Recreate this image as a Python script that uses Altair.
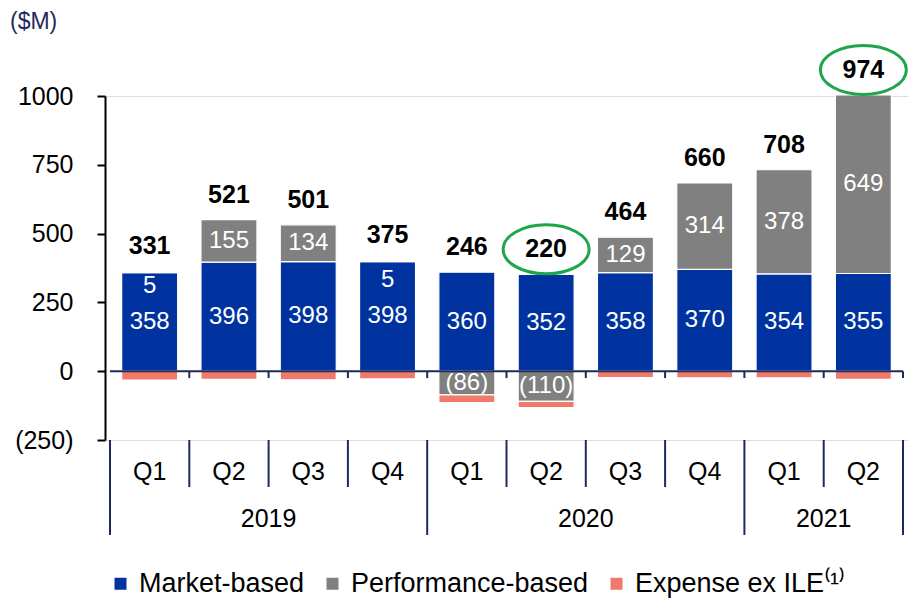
import altair as alt
import pandas as pd

# ---------------- data ----------------
years = ["2019", "2019", "2019", "2019", "2020", "2020", "2020", "2020", "2021", "2021"]
quarters = ["Q1", "Q2", "Q3", "Q4", "Q1", "Q2", "Q3", "Q4", "Q1", "Q2"]
market = [358, 396, 398, 398, 360, 352, 358, 370, 354, 355]
performance = [5, 155, 134, 5, -86, -110, 129, 314, 378, 649]
totals = [331, 521, 501, 375, 246, 220, 464, 660, 708, 974]
highlighted = [0, 0, 0, 0, 0, 1, 0, 0, 0, 1]
# expense (ex ILE) implied by total = market + performance + expense
expense = [t - m - p for t, m, p in zip(totals, market, performance)]

series_names = ["Market-based", "Performance-based", "Expense ex ILE⁽¹⁾"]
colors = ["#0033A0", "#808080", "#EF7A6A"]
y_ticks = [-250, 0, 250, 500, 750, 1000]

FONT = "Liberation Sans"
NAVY = "#1F2A5C"
GREEN = "#1FA64A"

idx = list(range(len(quarters)))

# ---------------- tables built from the lists ----------------
seg_rows, lab_rows, small_rows = [], [], []
def fmt(v):
    return f"({abs(v)})" if v < 0 else str(v)

for i in idx:
    m, p, e = market[i], performance[i], expense[i]
    seg_rows.append(dict(i=i, series=series_names[0], y0=0, y1=m))
    lab_rows.append(dict(i=i, y=m / 2, text=fmt(m)))
    if p >= 0:
        seg_rows.append(dict(i=i, series=series_names[1], y0=m, y1=m + p))
        seg_rows.append(dict(i=i, series=series_names[2], y0=0, y1=e))
        pmid = m + p / 2
    else:
        seg_rows.append(dict(i=i, series=series_names[1], y0=0, y1=p))
        seg_rows.append(dict(i=i, series=series_names[2], y0=p, y1=p + e))
        pmid = p / 2
    if abs(p) >= 20:
        lab_rows.append(dict(i=i, y=pmid, text=fmt(p)))
    else:
        small_rows.append(dict(i=i, y=m / 2, text=fmt(p)))

seg = pd.DataFrame(seg_rows)
labels = pd.DataFrame(lab_rows)
small_labels = pd.DataFrame(small_rows)

tot = pd.DataFrame({
    "i": idx,
    "top": [m + max(p, 0) for m, p in zip(market, performance)],
    "total": [str(t) for t in totals],
    "hl": highlighted,
})
cats = pd.DataFrame({"i": idx, "quarter": quarters, "year": years})
year_df = cats.groupby("year", as_index=False)["i"].mean()

bounds = [i + 0.5 for i in range(-1, len(idx))]
def is_year_bound(b):
    lo, hi = int(b - 0.5), int(b + 0.5)
    if lo < 0 or hi >= len(idx):
        return True
    return years[lo] != years[hi]
bdf = pd.DataFrame({"b": bounds, "yearb": [is_year_bound(b) for b in bounds]})

xscale = alt.Scale(domain=[-0.5, len(idx) - 0.5], nice=False, zero=False)
yscale = alt.Scale(domain=[-250, 1000], nice=False, zero=False)

yaxis = alt.Axis(
    values=y_ticks, title=None, grid=False,
    domainColor="black", domainWidth=2, tickColor="black", tickWidth=2, tickSize=8,
    labelFontSize=25, labelFont=FONT, labelColor="black", labelPadding=24,
    labelExpr="datum.value < 0 ? '(' + format(-datum.value, 'd') + ')' : format(datum.value, 'd')",
)

bars = alt.Chart(seg).mark_bar(width=56, stroke="white", strokeWidth=1.2).encode(
    x=alt.X("i:Q", scale=xscale, axis=None),
    y=alt.Y("y0:Q", scale=yscale, axis=yaxis),
    y2="y1:Q",
    color=alt.Color(
        "series:N",
        scale=alt.Scale(domain=series_names, range=colors),
        legend=alt.Legend(
            title=None, orient="none", legendX=2, legendY=474, direction="horizontal",
            symbolType="square", symbolSize=144, symbolStrokeWidth=0, symbolOpacity=1,
            labelFontSize=27, labelFont=FONT, labelColor="black", columnPadding=14,
            labelOffset=5, padding=0, labelLimit=400,
        ),
    ),
)

zero_line = alt.Chart(pd.DataFrame({"a": [0]})).mark_rule(color=NAVY, strokeWidth=2).encode(
    x=alt.datum(-0.5), x2=alt.datum(len(idx) - 0.5), y=alt.datum(0)
)
zero_ticks = alt.Chart(bdf[bdf.b > 0]).mark_rule(color=NAVY, strokeWidth=2).encode(
    x="b:Q", y=alt.datum(0), y2=alt.datum(-25)
)

in_labels = alt.Chart(labels).mark_text(color="white", fontSize=24, font=FONT, baseline="middle").encode(
    x="i:Q", y="y:Q", text="text:N"
)
in_small = alt.Chart(small_labels).mark_text(color="white", fontSize=24, font=FONT, baseline="middle", dy=-36).encode(
    x="i:Q", y="y:Q", text="text:N"
)
total_labels = alt.Chart(tot).mark_text(color="black", fontSize=25, fontWeight="bold", font=FONT,
                                        baseline="middle", dy=-25).encode(
    x="i:Q", y="top:Q", text="total:N"
)
ELLIPSE = "M -1 0 A 1 0.57 0 1 1 1 0 A 1 0.57 0 1 1 -1 0 Z"
ellipses = alt.Chart(tot[tot.hl == 1]).mark_point(
    shape=ELLIPSE, size=7396, filled=False, color=GREEN, strokeWidth=3, opacity=1, yOffset=-25
).encode(x="i:Q", y="top:Q")

q_seps = alt.Chart(bdf[~bdf.yearb]).mark_rule(color=NAVY, strokeWidth=2).encode(
    x="b:Q", y=alt.value(344), y2=alt.value(391)
)
y_seps = alt.Chart(bdf[bdf.yearb]).mark_rule(color=NAVY, strokeWidth=2).encode(
    x="b:Q", y=alt.value(344), y2=alt.value(439)
)
q_text = alt.Chart(cats).mark_text(fontSize=25, font=FONT, color="black", baseline="middle").encode(
    x="i:Q", y=alt.value(376), text="quarter:N"
)
yr_text = alt.Chart(year_df).mark_text(fontSize=25, font=FONT, color="black", baseline="middle").encode(
    x="i:Q", y=alt.value(423), text="year:N"
)
unit = alt.Chart(pd.DataFrame({"t": ["($M)"]})).mark_text(
    fontSize=23, font=FONT, color=NAVY, align="left", baseline="middle"
).encode(x=alt.value(-95), y=alt.value(-74), text="t:N")

chart = alt.layer(
    bars, zero_line, zero_ticks, in_labels, in_small, total_labels, ellipses,
    q_seps, y_seps, q_text, yr_text, unit
).properties(
    width=803, height=344,
    autosize=alt.AutoSizeParams(type="none"),
    padding={"left": 97, "top": 88, "right": 0, "bottom": 160},
).configure_view(stroke=None).configure(background="white")

chart.save("out.html", embed_options={"renderer": "svg", "actions": False})
